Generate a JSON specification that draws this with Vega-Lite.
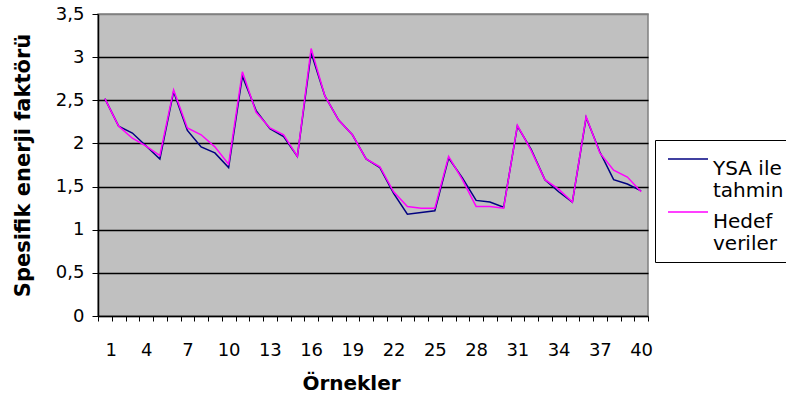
{
  "$schema": "https://vega.github.io/schema/vega-lite/v6.json",
  "width": 550,
  "height": 302,
  "autosize": "none",
  "padding": {"left": 98, "top": 14, "right": 138, "bottom": 90},
  "background": "white",
  "config": {
    "font": "DejaVu Sans",
    "view": {"fill": "#C0C0C0", "stroke": "#808080", "strokeWidth": 1.5}
  },
  "data": {"values": [
    {"n":1,"seri":"YSA ile tahmin","deger":2.52},{"n":2,"seri":"YSA ile tahmin","deger":2.2},{"n":3,"seri":"YSA ile tahmin","deger":2.12},{"n":4,"seri":"YSA ile tahmin","deger":1.97},{"n":5,"seri":"YSA ile tahmin","deger":1.82},
    {"n":6,"seri":"YSA ile tahmin","deger":2.6},{"n":7,"seri":"YSA ile tahmin","deger":2.15},{"n":8,"seri":"YSA ile tahmin","deger":1.96},{"n":9,"seri":"YSA ile tahmin","deger":1.89},{"n":10,"seri":"YSA ile tahmin","deger":1.72},
    {"n":11,"seri":"YSA ile tahmin","deger":2.78},{"n":12,"seri":"YSA ile tahmin","deger":2.38},{"n":13,"seri":"YSA ile tahmin","deger":2.17},{"n":14,"seri":"YSA ile tahmin","deger":2.08},{"n":15,"seri":"YSA ile tahmin","deger":1.85},
    {"n":16,"seri":"YSA ile tahmin","deger":3.05},{"n":17,"seri":"YSA ile tahmin","deger":2.55},{"n":18,"seri":"YSA ile tahmin","deger":2.27},{"n":19,"seri":"YSA ile tahmin","deger":2.1},{"n":20,"seri":"YSA ile tahmin","deger":1.82},
    {"n":21,"seri":"YSA ile tahmin","deger":1.72},{"n":22,"seri":"YSA ile tahmin","deger":1.42},{"n":23,"seri":"YSA ile tahmin","deger":1.18},{"n":24,"seri":"YSA ile tahmin","deger":1.2},{"n":25,"seri":"YSA ile tahmin","deger":1.22},
    {"n":26,"seri":"YSA ile tahmin","deger":1.83},{"n":27,"seri":"YSA ile tahmin","deger":1.6},{"n":28,"seri":"YSA ile tahmin","deger":1.34},{"n":29,"seri":"YSA ile tahmin","deger":1.32},{"n":30,"seri":"YSA ile tahmin","deger":1.26},
    {"n":31,"seri":"YSA ile tahmin","deger":2.2},{"n":32,"seri":"YSA ile tahmin","deger":1.93},{"n":33,"seri":"YSA ile tahmin","deger":1.58},{"n":34,"seri":"YSA ile tahmin","deger":1.44},{"n":35,"seri":"YSA ile tahmin","deger":1.32},
    {"n":36,"seri":"YSA ile tahmin","deger":2.3},{"n":37,"seri":"YSA ile tahmin","deger":1.9},{"n":38,"seri":"YSA ile tahmin","deger":1.58},{"n":39,"seri":"YSA ile tahmin","deger":1.53},{"n":40,"seri":"YSA ile tahmin","deger":1.45},
    {"n":1,"seri":"Hedef veriler","deger":2.52},{"n":2,"seri":"Hedef veriler","deger":2.2},{"n":3,"seri":"Hedef veriler","deger":2.06},{"n":4,"seri":"Hedef veriler","deger":1.97},{"n":5,"seri":"Hedef veriler","deger":1.86},
    {"n":6,"seri":"Hedef veriler","deger":2.62},{"n":7,"seri":"Hedef veriler","deger":2.18},{"n":8,"seri":"Hedef veriler","deger":2.1},{"n":9,"seri":"Hedef veriler","deger":1.96},{"n":10,"seri":"Hedef veriler","deger":1.76},
    {"n":11,"seri":"Hedef veriler","deger":2.83},{"n":12,"seri":"Hedef veriler","deger":2.36},{"n":13,"seri":"Hedef veriler","deger":2.18},{"n":14,"seri":"Hedef veriler","deger":2.1},{"n":15,"seri":"Hedef veriler","deger":1.85},
    {"n":16,"seri":"Hedef veriler","deger":3.1},{"n":17,"seri":"Hedef veriler","deger":2.55},{"n":18,"seri":"Hedef veriler","deger":2.27},{"n":19,"seri":"Hedef veriler","deger":2.1},{"n":20,"seri":"Hedef veriler","deger":1.82},
    {"n":21,"seri":"Hedef veriler","deger":1.73},{"n":22,"seri":"Hedef veriler","deger":1.44},{"n":23,"seri":"Hedef veriler","deger":1.27},{"n":24,"seri":"Hedef veriler","deger":1.25},{"n":25,"seri":"Hedef veriler","deger":1.25},
    {"n":26,"seri":"Hedef veriler","deger":1.85},{"n":27,"seri":"Hedef veriler","deger":1.58},{"n":28,"seri":"Hedef veriler","deger":1.27},{"n":29,"seri":"Hedef veriler","deger":1.27},{"n":30,"seri":"Hedef veriler","deger":1.25},
    {"n":31,"seri":"Hedef veriler","deger":2.21},{"n":32,"seri":"Hedef veriler","deger":1.92},{"n":33,"seri":"Hedef veriler","deger":1.58},{"n":34,"seri":"Hedef veriler","deger":1.47},{"n":35,"seri":"Hedef veriler","deger":1.32},
    {"n":36,"seri":"Hedef veriler","deger":2.31},{"n":37,"seri":"Hedef veriler","deger":1.89},{"n":38,"seri":"Hedef veriler","deger":1.69},{"n":39,"seri":"Hedef veriler","deger":1.61},{"n":40,"seri":"Hedef veriler","deger":1.44}
  ]},
  "mark": {"type": "line", "strokeWidth": 1.5, "clip": true},
  "encoding": {
    "x": {
      "field": "n", "type": "quantitative",
      "scale": {"domain": [0.5, 40.5], "nice": false, "zero": false},
      "axis": {
        "title": "Örnekler",
        "titleFont": "DejaVu Sans", "titleFontSize": 20, "titleFontWeight": "bold", "titleColor": "black", "titlePadding": 14,
        "titleX": 253, "titleAlign": "center",
        "values": [0.5,1.5,2.5,3.5,4.5,5.5,6.5,7.5,8.5,9.5,10.5,11.5,12.5,13.5,14.5,15.5,16.5,17.5,18.5,19.5,20.5,21.5,22.5,23.5,24.5,25.5,26.5,27.5,28.5,29.5,30.5,31.5,32.5,33.5,34.5,35.5,36.5,37.5,38.5,39.5,40.5],
        "labelExpr": "(datum.value + 0.5) % 3 == 1 && datum.value < 40 ? format(datum.value + 0.5, 'd') : ''",
        "labelOffset": 6.875,
        "labelOverlap": false,
        "labelFontSize": 18, "labelColor": "black", "labelPadding": 20,
        "grid": false,
        "domainColor": "black", "domainWidth": 1.5,
        "tickColor": "black", "tickSize": 5, "tickWidth": 1
      }
    },
    "y": {
      "field": "deger", "type": "quantitative",
      "scale": {"domain": [0, 3.5], "nice": false},
      "axis": {
        "title": "Spesifik enerji faktörü",
        "titleFont": "DejaVu Sans", "titleFontSize": 21, "titleFontWeight": "bold", "titleColor": "black", "titlePadding": 22,
        "values": [0, 0.5, 1, 1.5, 2, 2.5, 3, 3.5],
        "format": ".1~f",
        "labelExpr": "replace(datum.label, '.', ',')",
        "labelFontSize": 18, "labelColor": "black", "labelPadding": 8,
        "grid": true,
        "gridColor": {"condition": {"test": "datum.value == 3.5 || datum.value == 0", "value": "#808080"}, "value": "black"},
        "gridWidth": 1.5, "gridOpacity": 1,
        "domainColor": "black", "domainWidth": 1.5,
        "tickColor": "black", "tickSize": 6, "tickWidth": 1
      }
    },
    "color": {
      "field": "seri", "type": "nominal",
      "scale": {"domain": ["YSA ile tahmin", "Hedef veriler"], "range": ["#000080", "#FF00FF"]},
      "legend": {
        "title": null,
        "orient": "none", "legendX": 557, "legendY": 126,
        "fillColor": "white", "strokeColor": "black", "padding": 8,
        "symbolType": "M-2,0H2", "symbolSize": 400, "symbolStrokeWidth": 1.5, "symbolOffset": 14,
        "labelExpr": "datum.label == 'YSA ile tahmin' ? ['YSA ile', 'tahmin'] : ['Hedef', 'veriler']",
        "labelFontSize": 20, "labelColor": "black", "labelLimit": 200, "labelBaseline": "top", "labelOffset": 14,
        "rowPadding": -5
      }
    }
  }
}
